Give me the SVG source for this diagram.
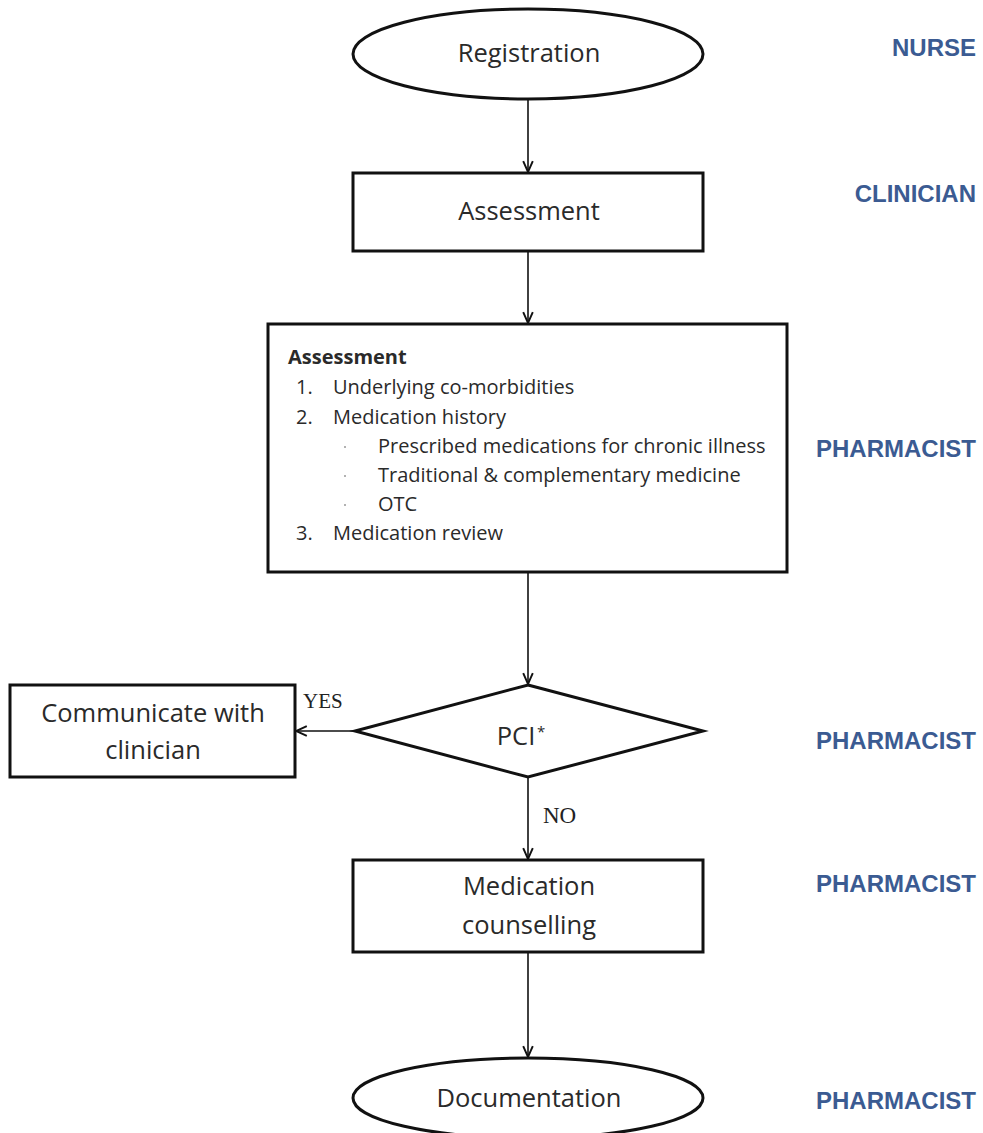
<svg xmlns="http://www.w3.org/2000/svg" width="983" height="1133" viewBox="0 0 983 1133">
<style>
.shape{fill:#fff;stroke:#111;stroke-width:3}
.conn{fill:none;stroke:#111;stroke-width:1.6}
.t{font-family:"Open Sans","Liberation Sans",sans-serif;font-size:25.5px;fill:#2a2a2a;text-anchor:middle}
.s{font-family:"Open Sans","Liberation Sans",sans-serif;font-size:20px;fill:#2a2a2a}
.b{font-weight:bold}
.lab{font-family:"Liberation Serif","Times New Roman",serif;fill:#222}
.role{font-family:"Liberation Sans",Arial,sans-serif;font-weight:bold;font-size:24px;fill:#3b5b92;text-anchor:end}
</style>
<defs>
<marker id="arr" markerWidth="12" markerHeight="12" refX="10" refY="5" orient="auto" markerUnits="userSpaceOnUse" viewBox="0 0 10 10">
<path d="M1,1 L10,5 L1,9" fill="none" stroke="#111" stroke-width="1.6"/>
</marker>
</defs>
<g id="connectors">
<line class="conn" x1="528" y1="99" x2="528" y2="172" marker-end="url(#arr)"/>
<line class="conn" x1="528" y1="251" x2="528" y2="323" marker-end="url(#arr)"/>
<line class="conn" x1="528" y1="572" x2="528" y2="684" marker-end="url(#arr)"/>
<line class="conn" x1="355" y1="731" x2="296" y2="731" marker-end="url(#arr)"/>
<line class="conn" x1="528" y1="777" x2="528" y2="859" marker-end="url(#arr)"/>
<line class="conn" x1="528" y1="952" x2="528" y2="1057" marker-end="url(#arr)"/>
<text class="lab" x="303" y="708" font-size="21">YES</text>
<text class="lab" x="543" y="823" font-size="23">NO</text>
</g>
<g id="registration">
<ellipse class="shape" cx="528" cy="54" rx="175" ry="45"/>
<text class="t" x="529" y="62">Registration</text>
</g>
<g id="assessment">
<rect class="shape" x="353" y="173" width="350" height="78"/>
<text class="t" x="529" y="220">Assessment</text>
</g>
<g id="assessment-detail">
<rect class="shape" x="268" y="324" width="519" height="248"/>
<text class="s b" x="288" y="364" font-size="18">Assessment</text>
<text class="s" x="296" y="394">1.</text><text class="s" x="333" y="394">Underlying co-morbidities</text>
<text class="s" x="296" y="424">2.</text><text class="s" x="333" y="424">Medication history</text>
<circle cx="345" cy="447" r="1" fill="#999"/><text class="s" x="378" y="453">Prescribed medications for chronic illness</text>
<circle cx="345" cy="476" r="1" fill="#999"/><text class="s" x="378" y="482">Traditional &amp; complementary medicine</text>
<circle cx="345" cy="505" r="1" fill="#999"/><text class="s" x="378" y="511">OTC</text>
<text class="s" x="296" y="540">3.</text><text class="s" x="333" y="540">Medication review</text>
</g>
<g id="pci">
<polygon class="shape" points="528,685 703,731 528,777 355,731"/>
<text class="t" x="516" y="745">PCI</text><text x="537" y="737" font-family="Open Sans,sans-serif" font-size="15" fill="#2a2a2a">*</text>
</g>
<g id="communicate">
<rect class="shape" x="10" y="685" width="285" height="92"/>
<text class="t" x="153" y="722">Communicate with</text>
<text class="t" x="153" y="759">clinician</text>
</g>
<g id="counselling">
<rect class="shape" x="353" y="860" width="350" height="92"/>
<text class="t" x="529" y="895">Medication</text>
<text class="t" x="529" y="934">counselling</text>
</g>
<g id="documentation">
<ellipse class="shape" cx="528" cy="1098" rx="175" ry="40"/>
<text class="t" x="529" y="1107">Documentation</text>
</g>
<g id="roles">
<text class="role" x="976" y="56">NURSE</text>
<text class="role" x="976" y="202">CLINICIAN</text>
<text class="role" x="976" y="457">PHARMACIST</text>
<text class="role" x="976" y="749">PHARMACIST</text>
<text class="role" x="976" y="892">PHARMACIST</text>
<text class="role" x="976" y="1109">PHARMACIST</text>
</g>
</svg>
